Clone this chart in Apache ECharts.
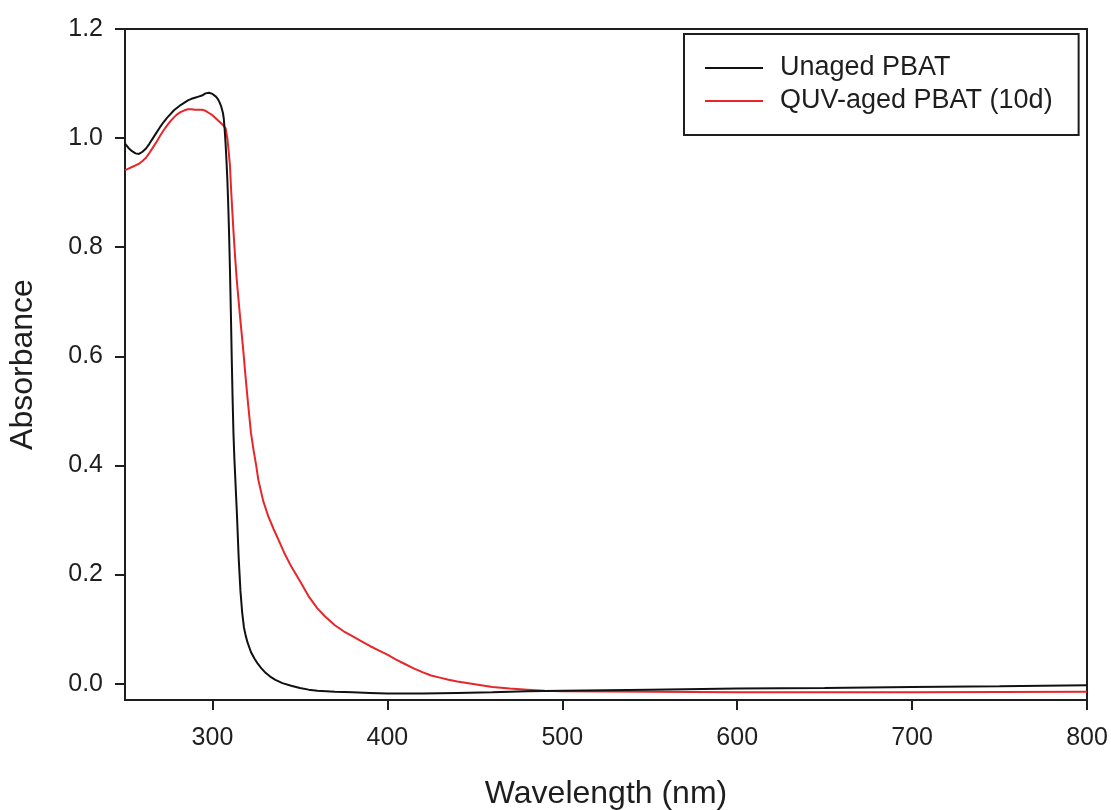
<!DOCTYPE html>
<html>
<head>
<meta charset="utf-8">
<script src="https://cdn.jsdelivr.net/npm/echarts@6/dist/echarts.min.js"></script>
<style>
html,body{margin:0;padding:0;background:#fff;}
#chart{width:1111px;height:810px;}
</style>
</head>
<body>
<div id="chart"></div>
<script>
// ---- data ----
const seriesNames = ['Unaged PBAT', 'QUV-aged PBAT (10d)'];
const xTicks = [300, 400, 500, 600, 700, 800];
const yTicks = [0.0, 0.2, 0.4, 0.6, 0.8, 1.0, 1.2];

const wlUnaged = [250,252,254,256,258,260,262,264,266,268,270,272,274,276,278,280,282,284,286,288,290,292,294,296,298,300,302,303,304,305,306,306.5,307,307.5,308,308.5,309,309.5,310,310.5,311,311.5,312,312.5,313,313.5,314,315,316,317,318,319,320,322,324,326,328,330,333,336,340,345,350,355,360,365,370,380,390,400,420,440,460,480,500,550,600,650,700,750,800];
const absUnaged = [0.990,0.982,0.976,0.972,0.971,0.975,0.981,0.990,1.000,1.010,1.020,1.029,1.037,1.044,1.051,1.056,1.061,1.065,1.069,1.072,1.074,1.076,1.078,1.082,1.083,1.081,1.076,1.072,1.066,1.058,1.046,1.035,1.015,0.990,0.960,0.925,0.880,0.825,0.760,0.685,0.600,0.525,0.460,0.415,0.380,0.345,0.310,0.230,0.170,0.130,0.103,0.088,0.076,0.058,0.046,0.036,0.028,0.021,0.013,0.007,0.001,-0.004,-0.008,-0.011,-0.013,-0.014,-0.015,-0.016,-0.017,-0.018,-0.018,-0.017,-0.016,-0.014,-0.013,-0.011,-0.009,-0.008,-0.006,-0.005,-0.003];

const wlAged = [250,252,254,256,258,260,262,264,266,268,270,272,274,276,278,280,282,284,286,288,290,292,294,296,298,300,302,304,306,307.5,308.5,309.3,310,310.6,311,312,313,313.9,315,316,317.5,319,320.3,322,323.4,325,326.2,329,332,335,337.7,341,345,350,355,360,364.4,370,375,380,385,390,395,400,405,410,415,420,425,430,435,440,450,460,470,480,490,500,550,600,700,800];
const absAged = [0.941,0.944,0.947,0.950,0.953,0.958,0.964,0.973,0.983,0.993,1.004,1.014,1.023,1.031,1.038,1.044,1.048,1.051,1.053,1.053,1.052,1.052,1.052,1.050,1.046,1.042,1.036,1.030,1.024,1.018,1.000,0.975,0.950,0.910,0.886,0.830,0.780,0.740,0.700,0.665,0.615,0.560,0.515,0.460,0.430,0.400,0.374,0.335,0.306,0.283,0.264,0.240,0.215,0.188,0.160,0.138,0.123,0.107,0.096,0.087,0.078,0.069,0.061,0.053,0.044,0.036,0.028,0.021,0.015,0.011,0.007,0.004,-0.001,-0.006,-0.009,-0.011,-0.013,-0.014,-0.015,-0.016,-0.016,-0.015];

const FONT = '"Liberation Sans", Arial, sans-serif';
const INK = '#1e1e1e';

const chart = echarts.init(document.getElementById('chart'), null, {renderer: 'canvas'});
chart.setOption({
  backgroundColor: '#ffffff',
  animation: false,
  grid: {left: 125, top: 29, right: 24, bottom: 110, containLabel: false, outerBoundsMode: 'none',
         show: true, borderColor: INK, borderWidth: 2, backgroundColor: 'transparent'},
  legend: {
    orient: 'vertical', left: 684, top: 34,
    padding: [20, 26, 20, 21],
    icon: 'rect',
    itemWidth: 58, itemHeight: 2, itemGap: 5,
    borderColor: INK, borderWidth: 2,
    textStyle: {fontSize: 27, lineHeight: 28, fontFamily: FONT, color: INK, padding: [0, 0, 0, 12]},
    data: seriesNames
  },
  xAxis: {
    type: 'value', min: 250, max: 800,
    name: 'Wavelength (nm)', nameLocation: 'middle', nameGap: 78,
    nameTextStyle: {fontSize: 32, fontFamily: FONT, color: INK},
    axisLine: {show: true, onZero: false, lineStyle: {color: INK, width: 2}},
    axisTick: {show: true, inside: false, length: 10, lineStyle: {color: INK, width: 2}, customValues: xTicks},
    axisLabel: {fontSize: 25, fontFamily: FONT, color: INK, margin: 26, customValues: xTicks, formatter: v => String(v)},
    splitLine: {show: false}
  },
  yAxis: {
    type: 'value', min: -0.03, max: 1.2,
    name: 'Absorbance', nameLocation: 'middle', nameGap: 86, nameRotate: 90,
    nameTextStyle: {fontSize: 32, fontFamily: FONT, color: INK},
    axisLine: {show: true, onZero: false, lineStyle: {color: INK, width: 2}},
    axisTick: {show: true, inside: false, length: 10, lineStyle: {color: INK, width: 2}, customValues: yTicks},
    axisLabel: {fontSize: 25, fontFamily: FONT, color: INK, margin: 22, customValues: yTicks, formatter: v => v.toFixed(1)},
    splitLine: {show: false}
  },
  series: [
    {
      name: seriesNames[0], type: 'line', showSymbol: false, symbol: 'none',
      lineStyle: {color: '#111111', width: 2}, itemStyle: {color: '#111111'},
      data: wlUnaged.map((w, i) => [w, absUnaged[i]]), z: 3
    },
    {
      name: seriesNames[1], type: 'line', showSymbol: false, symbol: 'none',
      lineStyle: {color: '#e8262a', width: 2}, itemStyle: {color: '#e8262a'},
      data: wlAged.map((w, i) => [w, absAged[i]]), z: 2
    }
  ]
});
</script>
</body>
</html>
